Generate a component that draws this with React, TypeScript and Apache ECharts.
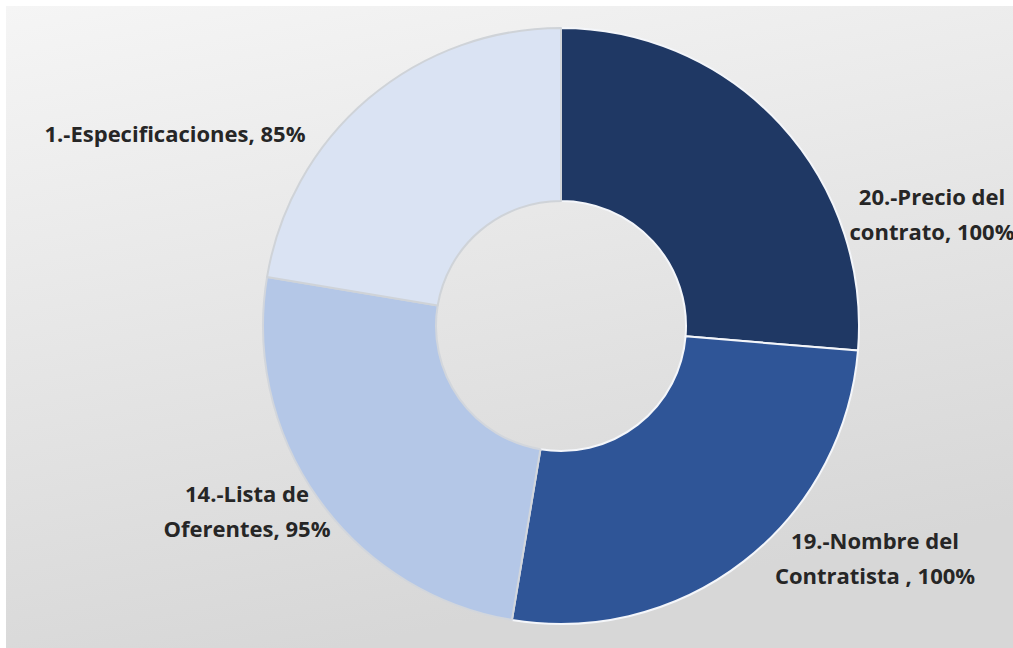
import React, { useEffect, useRef } from "react";
import * as echarts from "echarts";

const categories = [
  "20.-Precio del\ncontrato",
  "19.-Nombre del\nContratista ",
  "14.-Lista de\nOferentes",
  "1.-Especificaciones",
];
const values = [100, 100, 95, 85];
const colors = ["#1f3864", "#2f5597", "#b4c7e7", "#dae3f3"];
const borderColors = ["#f4f6fa", "#f4f6fa", "#d2d6dc", "#cfd3d8"];
const labelCenters = [
  [932, 213],
  [875, 557],
  [247, 510],
  [175, 133],
];

export default function App() {
  const ref = useRef<HTMLDivElement>(null);
  useEffect(() => {
    const chart = echarts.init(ref.current!, null, { renderer: "svg" });
    chart.setOption({
      animation: false,
      backgroundColor: "#ffffff",
      graphic: [
        {
          type: "rect",
          silent: true,
          z: -10,
          shape: { x: 6, y: 6, width: 1013, height: 648 },
          style: {
            fill: new echarts.graphic.LinearGradient(0, 0, 0.3, 1, [
              { offset: 0, color: "#f5f5f5" },
              { offset: 1, color: "#d7d7d7" },
            ]),
          },
        },
      ],
      series: [
        {
          type: "pie",
          center: [561, 326],
          radius: [125, 298],
          startAngle: 90,
          clockwise: true,
          avoidLabelOverlap: false,
          data: categories.map((name, i) => ({
            name,
            value: values[i],
            itemStyle: {
              color: colors[i],
              borderColor: borderColors[i],
              borderWidth: 2,
            },
          })),
          label: {
            show: true,
            position: "outside",
            formatter: (p: any) => `${p.name}, ${p.value}%`,
            fontFamily: "Open Sans",
            fontWeight: "bold",
            fontSize: 22,
            lineHeight: 35,
            color: "#262626",
            align: "center",
          },
          labelLine: { show: false },
          labelLayout: (params: any) => ({
            x: labelCenters[params.dataIndex][0],
            y: labelCenters[params.dataIndex][1],
            align: "center",
            verticalAlign: "middle",
          }),
          emphasis: { disabled: true },
        },
      ],
    });
    return () => chart.dispose();
  }, []);
  return (
    <div
      ref={ref}
      style={{ position: "fixed", left: 0, top: 0, width: 1013, height: 648 }}
    />
  );
}
